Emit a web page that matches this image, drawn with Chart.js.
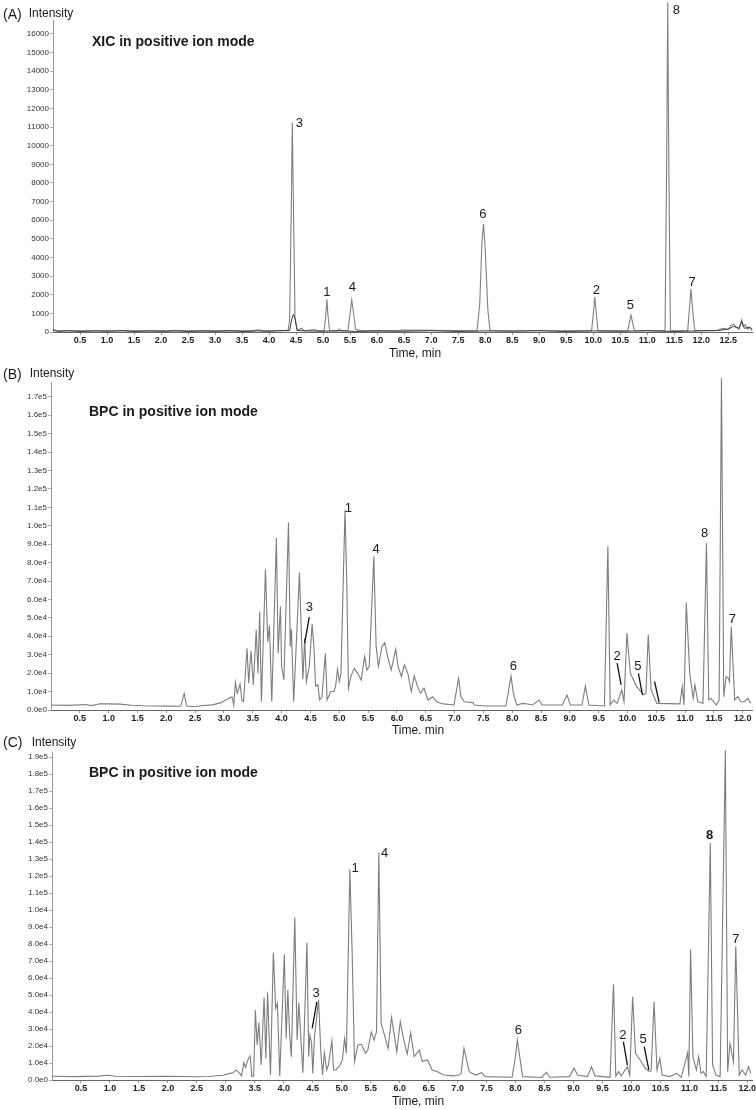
<!DOCTYPE html>
<html><head><meta charset="utf-8">
<script src="https://cdn.jsdelivr.net/npm/chart.js@4"></script>
<style>
body{margin:0;background:#fff;width:756px;height:1110px;overflow:hidden}
.p{position:absolute;left:0;width:756px}
</style></head><body>
<div class="p" style="top:0;height:360px"><canvas id="cA"></canvas></div>
<div class="p" style="top:360px;height:374px"><canvas id="cB"></canvas></div>
<div class="p" style="top:734px;height:376px"><canvas id="cC"></canvas></div>
<script>
// ---------- Panel A: XIC ----------
const timeA = [0.00,0.05,1.00,2.00,3.00,3.70,3.80,3.90,4.35,4.38,4.41,4.43,4.45,4.48,4.52,4.60,4.65,4.85,4.90,5.02,5.05,5.07,5.09,5.12,5.28,5.30,5.33,5.46,5.50,5.53,5.56,5.60,5.65,5.70,6.40,6.45,7.85,7.90,7.94,7.97,8.00,8.05,8.09,9.97,10.00,10.03,10.06,10.09,10.64,10.67,10.70,10.73,10.76,11.33,11.36,11.38,11.40,11.43,11.75,11.78,11.81,11.84,11.88,12.30,12.40,12.50,12.55,12.60,12.65,12.70,12.75,12.78,12.82,12.86,12.90,12.94];
const intA  = [150,60,70,60,60,60,120,60,80,600,6500,11250,7000,800,100,200,60,130,60,70,900,1750,900,80,60,150,60,80,1000,1720,1100,150,100,60,60,110,70,1500,4800,5800,4500,1200,80,70,900,1880,900,70,70,500,910,500,70,60,9000,17700,9000,60,80,1200,2300,1200,80,80,200,150,350,420,250,150,650,300,400,150,250,100];
const timeA2 = [0.00,0.10,0.30,0.50,0.80,1.00,1.30,1.50,1.80,2.00,2.30,2.50,2.80,3.00,3.30,3.50,3.80,4.00,4.20,4.38,4.42,4.45,4.48,4.52,4.70,5.00,5.30,5.60,6.00,6.50,7.00,7.50,8.00,8.50,9.00,9.50,10.00,10.50,11.00,11.50,12.00,12.30,12.50,12.60,12.70,12.75,12.80,12.90,12.94];
const intA2  = [120,40,70,30,60,40,70,30,60,40,70,30,60,40,70,30,60,40,70,80,700,950,700,80,60,40,70,30,60,40,70,30,60,40,70,30,60,40,70,30,60,80,150,300,200,550,200,250,100];
const yTicksA = [0,1000,2000,3000,4000,5000,6000,7000,8000,9000,10000,11000,12000,13000,14000,15000,16000];
const yLabelsA = ['0','1000','2000','3000','4000','5000','6000','7000','8000','9000','10000','11000','12000','13000','14000','15000','16000'];
const xTicksA = [0.5,1,1.5,2,2.5,3,3.5,4,4.5,5,5.5,6,6.5,7,7.5,8,8.5,9,9.5,10,10.5,11,11.5,12,12.5];
const xLabelsA = ['0.5','1.0','1.5','2.0','2.5','3.0','3.5','4.0','4.5','5.0','5.5','6.0','6.5','7.0','7.5','8.0','8.5','9.0','9.5','10.0','10.5','11.0','11.5','12.0','12.5'];
const pkNameA = ['3','1','4','6','2','5','8','7'];
const pkTimeA = [4.56,5.07,5.54,7.96,10.06,10.69,11.54,11.83];
const pkIntA  = [11220,2150,2415,6330,2250,1450,17280,2680];

// ---------- Panel B: BPC ----------
const timeB = [0.00,0.30,0.60,0.70,0.85,1.00,1.20,1.40,1.60,2.00,2.25,2.31,2.35,2.50,2.60,2.80,2.95,3.08,3.14,3.17,3.20,3.23,3.26,3.28,3.31,3.34,3.40,3.43,3.47,3.51,3.56,3.59,3.62,3.65,3.72,3.76,3.79,3.83,3.91,3.94,3.98,4.00,4.04,4.12,4.15,4.17,4.21,4.31,4.35,4.37,4.40,4.43,4.48,4.53,4.56,4.59,4.63,4.66,4.70,4.76,4.79,4.85,4.91,4.94,4.97,5.00,5.03,5.10,5.13,5.16,5.20,5.26,5.32,5.38,5.44,5.48,5.52,5.60,5.64,5.68,5.74,5.79,5.84,5.90,5.98,6.02,6.08,6.13,6.19,6.25,6.30,6.37,6.41,6.47,6.54,6.62,6.69,6.80,6.99,7.07,7.11,7.17,7.32,7.34,7.52,7.89,7.93,7.98,8.02,8.08,8.18,8.26,8.35,8.47,8.52,8.87,8.95,9.01,9.21,9.27,9.33,9.60,9.66,9.70,9.76,9.82,9.90,9.94,9.99,10.05,10.16,10.28,10.32,10.36,10.41,10.46,10.51,10.91,10.95,10.98,11.02,11.08,11.14,11.17,11.22,11.31,11.37,11.41,11.45,11.54,11.59,11.63,11.67,11.71,11.75,11.77,11.80,11.86,11.91,11.97,12.03,12.09,12.14];
const intB  = [2700,2500,3000,2400,3400,3300,3200,2600,2300,2100,2000,9000,2200,1800,2300,2800,4000,6300,7200,2700,14900,9100,11800,14100,5400,4500,33500,14500,32200,13600,43500,19900,53400,4500,76400,37100,45700,4500,93300,30800,56200,23600,16300,101800,34400,43800,4500,74600,34400,16700,38900,15400,23600,46600,34400,13000,13600,5400,7200,30800,5400,10000,10000,13600,22100,15400,19900,108700,70700,11800,18100,22600,19900,16300,29000,21700,23600,83300,34400,23600,34400,36600,29000,21700,33000,23600,18100,24500,19900,10000,18500,11800,9100,11800,5400,7200,4500,3300,2700,17200,7200,4500,4000,2700,2200,2200,9000,18500,9000,2700,3600,3300,2700,5400,2700,2700,8200,2700,2700,13000,2700,2200,88800,2700,5400,3600,10900,4500,41700,19900,12700,8200,9000,40800,10900,7200,3600,3300,12700,2700,58300,19900,6300,13600,4500,3600,90600,5400,6300,2700,5400,180000,7200,18100,17200,15400,45300,5400,7200,4500,4500,6300,3600];
const yTicksB = [0,10000,20000,30000,40000,50000,60000,70000,80000,90000,100000,110000,120000,130000,140000,150000,160000,170000];
const yLabelsB = ['0.0e0','1.0e4','2.0e4','3.0e4','4.0e4','5.0e4','6.0e4','7.0e4','8.0e4','9.0e4','1.0e5','1.1e5','1.2e5','1.3e5','1.4e5','1.5e5','1.6e5','1.7e5'];
const xTicksB = [0.5,1,1.5,2,2.5,3,3.5,4,4.5,5,5.5,6,6.5,7,7.5,8,8.5,9,9.5,10,10.5,11,11.5,12];
const xLabelsB = ['0.5','1.0','1.5','2.0','2.5','3.0','3.5','4.0','4.5','5.0','5.5','6.0','6.5','7.0','7.5','8.0','8.5','9.0','9.5','10.0','10.5','11.0','11.5','12.0'];
const pkNameB = ['3','1','4','6','2','5','8','7'];
const pkTimeB = [4.48,5.16,5.64,8.02,9.82,10.18,11.34,11.82];
const pkIntB  = [55600,109600,87000,23900,29300,23900,96000,49300];
const leadT1B = [4.48,9.82,10.19,10.47];
const leadI1B = [50400,25400,19900,15400];
const leadT2B = [4.40,9.89,10.26,10.55];
const leadI2B = [36200,13600,8200,4000];

// ---------- Panel C: BPC ----------
const timeC = [0.00,0.40,0.80,0.95,1.10,1.50,2.00,2.50,2.70,2.95,3.07,3.13,3.18,3.24,3.27,3.31,3.34,3.36,3.39,3.42,3.45,3.48,3.51,3.54,3.57,3.61,3.66,3.69,3.72,3.77,3.82,3.86,3.89,3.93,4.01,4.04,4.07,4.10,4.13,4.19,4.23,4.26,4.30,4.33,4.40,4.43,4.45,4.48,4.50,4.53,4.60,4.64,4.67,4.70,4.74,4.77,4.83,4.86,4.90,4.97,5.01,5.05,5.08,5.14,5.18,5.22,5.28,5.34,5.41,5.45,5.51,5.56,5.60,5.64,5.68,5.73,5.80,5.86,5.91,5.95,6.01,6.07,6.13,6.19,6.25,6.34,6.39,6.48,6.56,6.65,6.76,6.93,7.02,7.06,7.11,7.20,7.31,7.41,7.48,7.94,7.99,8.03,8.08,8.12,8.45,8.53,8.59,8.93,9.01,9.07,9.24,9.31,9.37,9.63,9.69,9.73,9.78,9.82,9.93,9.97,10.02,10.07,10.15,10.24,10.31,10.34,10.39,10.44,10.49,10.53,10.66,10.78,10.86,10.97,10.99,11.02,11.06,11.12,11.16,11.20,11.24,11.29,11.36,11.40,11.46,11.53,11.62,11.66,11.70,11.76,11.80,11.86,11.91,11.97,12.02,12.06];
const intC  = [2200,2000,2300,2800,2200,2100,2200,1900,2100,2800,3900,4300,5900,3900,2400,10200,7400,9800,12700,14100,2000,2400,41100,20600,33700,8800,48600,12700,51500,2900,75000,42100,45000,2400,74000,24500,52900,27400,13700,95600,23500,45400,21500,4300,80700,13700,26400,21500,3900,25500,47000,15700,2900,16100,5900,8800,23100,5900,5900,8800,11800,24500,15700,123800,74400,10800,20600,21000,15700,17600,28200,23500,28400,133800,33300,27400,18600,36800,25500,16600,34300,23500,15300,27800,13700,17600,10800,11800,5900,4900,2900,2400,2900,3900,18600,4900,2900,4300,2000,1600,11800,23500,11800,2000,1500,4500,1600,2000,6900,2900,2000,7800,2400,1600,56400,2400,4900,2400,7800,2900,49000,15700,11800,6900,4900,5500,46000,5900,12700,2900,2000,3900,1600,16100,2000,76800,13700,5900,13700,3900,4900,2000,139400,8800,2900,2000,194000,4900,21500,10800,78700,2900,5900,2900,7800,3900];
const yTicksC = [0,10000,20000,30000,40000,50000,60000,70000,80000,90000,100000,110000,120000,130000,140000,150000,160000,170000,180000,190000];
const yLabelsC = ['0.0e0','1.0e4','2.0e4','3.0e4','4.0e4','5.0e4','6.0e4','7.0e4','8.0e4','9.0e4','1.0e4','1.1e5','1.2e5','1.3e5','1.4e5','1.5e5','1.6e5','1.7e5','1.8e5','1.9e5'];
const xTicksC = xTicksB;
const xLabelsC = xLabelsB;
const pkNameC = ['3','1','4','6','2','5','8','7'];
const pkTimeC = [4.56,5.23,5.74,8.05,9.85,10.20,11.35,11.80];
const pkIntC  = [50900,124400,133600,29000,26400,23900,143900,82600];
const pkBoldC = [false,false,false,false,false,false,true,false];
const leadT1C = [4.57,9.86,10.22];
const leadI1C = [46000,22500,19600];
const leadT2C = [4.49,9.93,10.30];
const leadI2C = [30400,8800,5900];

// ---------- drawing ----------
const FONT = '"Liberation Sans", Arial, Helvetica, sans-serif';
Chart.defaults.font.family = FONT;

const annot = {
  id: 'annot',
  afterDatasetsDraw(chart, args, o) {
    const ctx = chart.ctx, x = chart.scales.x, y = chart.scales.y;
    ctx.save();
    ctx.fillStyle = '#1a1a1a';
    ctx.textBaseline = 'middle';
    o.texts.forEach(t => {
      ctx.font = t.font + ' ' + FONT;
      ctx.textAlign = t.align;
      ctx.fillText(t.text, t.x, t.y);
    });
    ctx.textAlign = 'center';
    o.names.forEach((n, i) => {
      ctx.font = ((o.bold && o.bold[i]) ? 'bold ' : '') + '13px ' + FONT;
      ctx.fillText(n, x.getPixelForValue(o.times[i]), y.getPixelForValue(o.ints[i]));
    });
    if (o.lt1) {
      ctx.strokeStyle = '#111';
      ctx.lineWidth = 1.3;
      o.lt1.forEach((t, i) => {
        ctx.beginPath();
        ctx.moveTo(x.getPixelForValue(t), y.getPixelForValue(o.li1[i]));
        ctx.lineTo(x.getPixelForValue(o.lt2[i]), y.getPixelForValue(o.li2[i]));
        ctx.stroke();
      });
    }
    ctx.restore();
  }
};

function pts(t, v) { return t.map((tt, i) => ({x: tt, y: v[i]})); }

function makeChart(id, c) {
  const datasets = c.series.map(s => ({
    data: pts(s.t, s.v), borderColor: s.color, borderWidth: s.w,
    pointRadius: 0, tension: 0, fill: false, clip: {left: 0, right: 4, top: false, bottom: 0}
  }));
  return new Chart(document.getElementById(id), {
    type: 'line',
    data: {datasets},
    plugins: [annot],
    options: {
      responsive: true, maintainAspectRatio: false, animation: false,
      parsing: false,
      layout: {padding: {left: 0, right: 4, top: c.top, bottom: 0}},
      plugins: {legend: {display: false}, tooltip: {enabled: false}, annot: c.annot},
      scales: {
        x: {
          type: 'linear', min: c.xmin, max: c.xmax,
          afterBuildTicks: s => { s.ticks = c.xt.map(v => ({value: v})); },
          afterFit: s => { s.height = c.xh; s.paddingLeft = 0; s.paddingRight = 0; },
          ticks: {callback: (v, i) => c.xl[i], font: {size: 9, weight: 'bold'}, color: '#222', padding: 0, autoSkip: false, maxRotation: 0, minRotation: 0},
          grid: {drawOnChartArea: false, tickLength: 3, color: '#999'},
          border: {color: '#666'}
        },
        y: {
          type: 'linear', min: 0, max: c.ymax,
          afterBuildTicks: s => { s.ticks = c.yt.map(v => ({value: v})); },
          afterFit: s => { s.width = c.yw; s.paddingTop = 0; s.paddingBottom = 0; },
          ticks: {callback: (v, i) => c.yl[i], font: {size: 8}, color: '#333', padding: 1, autoSkip: false},
          grid: {drawOnChartArea: false, tickLength: 3, color: '#aaa'},
          border: {color: '#999'}
        }
      }
    }
  });
}

makeChart('cA', {
  series: [{t: timeA2, v: intA2, color: '#3a3a3a', w: 1}, {t: timeA, v: intA, color: '#808080', w: 1.1}],
  top: 20, xmin: 0, xmax: 12.94, xh: 28, yw: 53, ymax: 16750,
  xt: xTicksA, xl: xLabelsA, yt: yTicksA, yl: yLabelsA,
  annot: {
    texts: [
      {text: '(A)', x: 3, y: 15, font: '14px', align: 'left'},
      {text: 'Intensity', x: 51, y: 14, font: '12px', align: 'center'},
      {text: 'XIC in positive ion mode', x: 92, y: 42, font: 'bold 14px', align: 'left'},
      {text: 'Time, min', x: 415, y: 354, font: '12px', align: 'center'}
    ],
    names: pkNameA, times: pkTimeA, ints: pkIntA
  }
});

makeChart('cB', {
  series: [{t: timeB, v: intB, color: '#7d7d7d', w: 1.1}],
  top: 22, xmin: 0, xmax: 12.16, xh: 24, yw: 51, ymax: 178000,
  xt: xTicksB, xl: xLabelsB, yt: yTicksB, yl: yLabelsB,
  annot: {
    texts: [
      {text: '(B)', x: 3, y: 15, font: '14px', align: 'left'},
      {text: 'Intensity', x: 52, y: 14, font: '12px', align: 'center'},
      {text: 'BPC in positive ion mode', x: 89, y: 52, font: 'bold 14px', align: 'left'},
      {text: 'Time, min', x: 418, y: 371, font: '12px', align: 'center'}
    ],
    names: pkNameB, times: pkTimeB, ints: pkIntB,
    lt1: leadT1B, li1: leadI1B, lt2: leadT2B, li2: leadI2B
  }
});

makeChart('cC', {
  series: [{t: timeC, v: intC, color: '#7d7d7d', w: 1.1}],
  top: 18, xmin: 0, xmax: 12.08, xh: 30, yw: 52, ymax: 193000,
  xt: xTicksC, xl: xLabelsC, yt: yTicksC, yl: yLabelsC,
  annot: {
    texts: [
      {text: '(C)', x: 3, y: 9, font: '14px', align: 'left'},
      {text: 'Intensity', x: 54, y: 9, font: '12px', align: 'center'},
      {text: 'BPC in positive ion mode', x: 89, y: 39, font: 'bold 14px', align: 'left'},
      {text: 'Time, min', x: 418, y: 368, font: '12px', align: 'center'}
    ],
    names: pkNameC, times: pkTimeC, ints: pkIntC, bold: pkBoldC,
    lt1: leadT1C, li1: leadI1C, lt2: leadT2C, li2: leadI2C
  }
});
</script>
</body></html>
